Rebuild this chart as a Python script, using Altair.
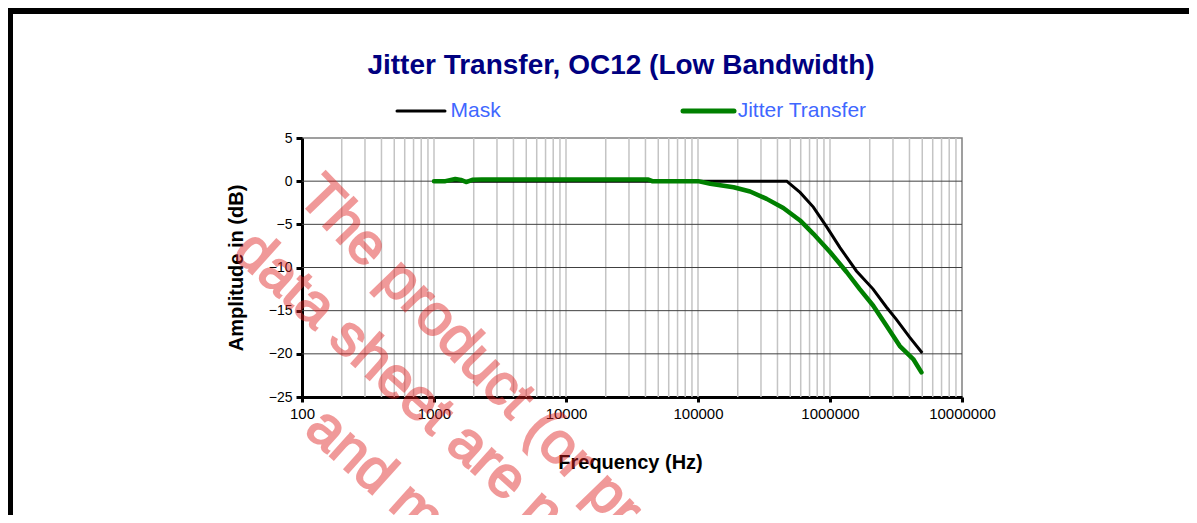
import altair as alt
import pandas as pd

# ---- data ----
mask_freq = [1000, 470000, 593000, 748000, 944000, 1190000, 1585000, 2120000, 2680000, 3180000, 4020000, 5000000]
mask_db = [0.0, 0.0, -1.3, -3.0, -5.3, -7.7, -10.4, -12.5, -14.6, -16.0, -18.1, -19.9]

jt_freq = [1000, 1220, 1450, 1600, 1750, 1950, 2300, 10000, 42000, 45000, 100000, 124000, 186000, 248000,
           331000, 443000, 593000, 748000, 1000000, 1340000, 1680000, 2120000, 2680000, 3380000, 4270000, 4930000]
jt_db = [0.0, 0.0, 0.25, 0.15, -0.1, 0.15, 0.2, 0.2, 0.2, 0.0, 0.0, -0.3, -0.7, -1.2,
         -2.05, -3.1, -4.55, -6.1, -8.2, -10.55, -12.5, -14.4, -16.75, -19.1, -20.6, -22.15]

series_names = ["Mask", "Jitter Transfer"]
series_colors = ["#000000", "#008000"]

x_ticks = [100, 1000, 10000, 100000, 1000000, 10000000]
y_ticks = [-25, -20, -15, -10, -5, 0, 5]
y_grid = [-20, -15, -10, -5, 0]
x_grid = [m * 10 ** k for k in range(2, 7) for m in range(1, 10)][1:]

title_text = "Jitter Transfer, OC12 (Low Bandwidth)"
x_title = "Frequency (Hz)"
y_title = "Amplitude in (dB)"
watermark_lines = [
    "The product (or product family) described in this",
    "data sheet are not recommended for new designs",
    "and may not be available",
]

FONT = "Liberation Sans"
W, H = 660, 259

mask_df = pd.DataFrame({"f": mask_freq, "db": mask_db, "s": series_names[0]})
jt_df = pd.DataFrame({"f": jt_freq, "db": jt_db, "s": series_names[1]})
one = pd.DataFrame({"a": [0]})

xscale = alt.Scale(type="log", domain=[100, 10000000], nice=False)
yscale = alt.Scale(domain=[-25, 5], nice=False, zero=False)

x_axis = alt.Axis(values=x_ticks, format="d", grid=False, domainColor="black", domainWidth=3,
                  tickColor="black", tickWidth=3, tickSize=5, labelFont=FONT, labelFontSize=15,
                  labelColor="black", labelPadding=4, labelFlush=False, labelOverlap=False,
                  title=x_title, titleFont=FONT, titleFontSize=20, titleFontWeight="bold",
                  titleColor="black", titleX=328, titleY=65, titleAlign="center", titleBaseline="middle")
y_axis = alt.Axis(values=y_ticks, grid=False, domainColor="black", domainWidth=3,
                  tickColor="black", tickWidth=3, tickSize=6, labelFont=FONT, labelFontSize=14,
                  labelColor="black", labelPadding=4, labelFlush=False, labelOverlap=False,
                  title=y_title, titleFont=FONT, titleFontSize=20, titleFontWeight="bold",
                  titleColor="black", titleX=-66, titleY=129.5, titleAngle=-90,
                  titleAlign="center", titleBaseline="middle")

vgrid = alt.Chart(pd.DataFrame({"f": x_grid})).mark_rule(color="#c4c4c4", strokeWidth=1.5).encode(
    x=alt.X("f:Q", scale=xscale, axis=x_axis))
hgrid = alt.Chart(pd.DataFrame({"db": y_grid})).mark_rule(color="#404040", strokeWidth=1).encode(
    y=alt.Y("db:Q", scale=yscale, axis=y_axis))

mask_line = alt.Chart(mask_df).mark_line(color=series_colors[0], strokeWidth=3).encode(
    x=alt.X("f:Q", scale=xscale), y=alt.Y("db:Q", scale=yscale))
jt_line = alt.Chart(jt_df).mark_line(color=series_colors[1], strokeWidth=4.5, strokeJoin="round",
                                     strokeCap="round").encode(
    x=alt.X("f:Q", scale=xscale), y=alt.Y("db:Q", scale=yscale))

# title
title = alt.Chart(one).mark_text(text=title_text, font=FONT, fontSize=28, fontWeight="bold",
                                 color="#000080", align="center", baseline="middle").encode(
    x=alt.value(319), y=alt.value(-72))

# legend
leg = []
leg_pos = [(95, 143, 148.5, 3), (381, 432, 435.7, 5)]
for name, col, (x1, x2, tx, sw) in zip(series_names, series_colors, leg_pos):
    leg.append(alt.Chart(one).mark_rule(color=col, strokeWidth=sw, strokeCap="round").encode(
        x=alt.value(x1), x2=alt.value(x2), y=alt.value(-27)))
    leg.append(alt.Chart(one).mark_text(text=name, font=FONT, fontSize=21, color="#3F67FF",
                                        align="left", baseline="middle").encode(
        x=alt.value(tx), y=alt.value(-27)))

# watermark
wm = []
wm_pos = [(-6, 60, 46), (-71, 117, 42), (1, 294, 42)]
for t, (wx, wy, ang) in zip(watermark_lines, wm_pos):
    wm.append(alt.Chart(one).mark_text(text=t, font=FONT, fontSize=58, fill="#E02020", stroke="#E02020",
                                       strokeWidth=2, opacity=0.45, angle=ang, align="left",
                                       baseline="alphabetic").encode(
        x=alt.value(wx), y=alt.value(wy)))

# outer frame
frame_top = alt.Chart(one).mark_rect(color="black").encode(
    x=alt.value(-294), x2=alt.value(887), y=alt.value(-130), y2=alt.value(-124))
frame_left = alt.Chart(one).mark_rect(color="black").encode(
    x=alt.value(-294), x2=alt.value(-289), y=alt.value(-130), y2=alt.value(377))

chart = alt.layer(vgrid, hgrid, mask_line, jt_line, title, *leg, *wm, frame_top, frame_left).properties(
    width=W, height=H,
    padding={"left": 294, "top": 130, "right": 227, "bottom": 118},
    autosize=alt.AutoSizeParams(type="none"),
).configure_view(stroke="#808080", strokeWidth=1.5)

chart.save("out.html", embed_options={"renderer": "svg", "actions": False})
